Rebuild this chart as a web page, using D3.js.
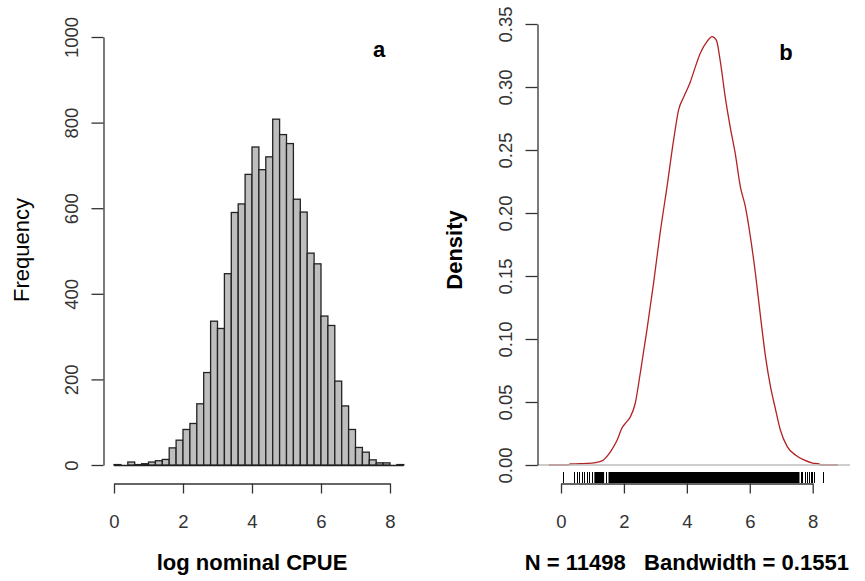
<!DOCTYPE html>
<html><head><meta charset="utf-8">
<script src="https://cdn.jsdelivr.net/npm/d3@7"></script>
<style>body{margin:0;background:#fff}svg{display:block}text{font-family:"Liberation Sans",Arial,sans-serif;white-space:pre}</style>
</head><body>
<script>
// ---- data ----
const binStarts = [0.0,0.2,0.4,0.6,0.8,1.0,1.2,1.4,1.6,1.8,2.0,2.2,2.4,2.6,2.8,3.0,3.2,3.4,3.6,3.8,4.0,4.2,4.4,4.6,4.8,5.0,5.2,5.4,5.6,5.8,6.0,6.2,6.4,6.6,6.8,7.0,7.2,7.4,7.6,7.8,8.0,8.2];
const binWidth = 0.2;
const counts = [1,0,7,1,3,7,10,13,40,58,83,97,143,216,336,319,447,590,610,679,743,690,720,808,772,751,621,591,495,470,348,326,196,138,83,41,30,12,5,5,0,1];
const xTicks = [0,2,4,6,8];
const freqTicks = [0,200,400,600,800,1000];
const densTicks = [0,0.05,0.10,0.15,0.20,0.25,0.30,0.35];
const densTickLabels = ["0.00","0.05","0.10","0.15","0.20","0.25","0.30","0.35"];
const densX = [-0.39,0.0,0.25,0.29,0.6,0.98,1.2,1.35,1.5,1.61,1.79,1.93,2.08,2.2,2.36,2.52,2.73,2.94,3.15,3.37,3.58,3.74,3.9,4.11,4.27,4.43,4.64,4.8,4.94,5.06,5.22,5.38,5.54,5.7,5.86,6.02,6.18,6.34,6.5,6.66,6.82,6.97,7.19,7.45,7.72,8.0,8.2,8.25,8.5,8.8];
const densY = [0,0,0,0.0008,0.001,0.0015,0.0025,0.004,0.008,0.012,0.020,0.029,0.034,0.038,0.049,0.073,0.107,0.144,0.184,0.221,0.258,0.282,0.292,0.304,0.316,0.327,0.336,0.340,0.337,0.321,0.292,0.268,0.247,0.221,0.205,0.181,0.152,0.118,0.086,0.062,0.044,0.028,0.0146,0.008,0.004,0.0015,0.0008,0,0,0];
const rugTicks = [0.07,0.42,0.50,0.58,0.66,0.74,0.82,0.90,0.98,1.43,7.62,7.66,7.74,7.82,7.88,7.95,7.99,8.03,8.33];
const rugBands = [[1.06,1.37],[1.51,7.58]];
const xLabelA = "log nominal CPUE";
const yLabelA = "Frequency";
const xLabelB = "N = 11498   Bandwidth = 0.1551";
const yLabelB = "Density";

// ---- drawing ----
const W = 865, H = 581;
const svg = d3.select("body").append("svg").attr("width", W).attr("height", H);
svg.append("rect").attr("width", W).attr("height", H).attr("fill", "#fff");
const axisCol = "#333", tickFont = 18.5, labFont = 22;

// Panel a
const xA = d3.scaleLinear().domain([0,8]).range([114,390]);
const yA = d3.scaleLinear().domain([0,1000]).range([465,37]);
const gA = svg.append("g");
gA.append("line").attr("x1", xA(0)).attr("x2", xA(8.4)).attr("y1", yA(0)+0.5).attr("y2", yA(0)+0.5)
  .attr("stroke", "#222").attr("stroke-width", 1.3);
gA.selectAll("rect.bar").data(binStarts.map((b,i)=>({b, c: counts[i]})).filter(d=>d.c>0))
  .join("rect").attr("class","bar")
  .attr("x", d=>xA(d.b)).attr("width", d=>xA(d.b+binWidth)-xA(d.b))
  .attr("y", d=>yA(d.c)).attr("height", d=>yA(0)-yA(d.c))
  .attr("fill", "#BEBEBE").attr("stroke", "#222").attr("stroke-width", 1.3);

function xAxis(g, sc, y){
  const a = g.append("g").attr("transform", `translate(0,${y})`)
    .call(d3.axisBottom(sc).tickValues(xTicks).tickSize(10).tickSizeOuter(0).tickFormat(d3.format("d")));
  a.select(".domain").attr("stroke", axisCol).attr("stroke-width", 1.3);
  a.selectAll(".tick line").attr("stroke", axisCol).attr("stroke-width", 1.3);
  a.selectAll(".tick text").attr("font-size", tickFont).attr("fill", axisCol).attr("dy", null).attr("y", 44);
}
function yAxis(g, sc, x, ticks, labels, bx){
  const a = g.append("g").attr("transform", `translate(${x},0)`)
    .call(d3.axisLeft(sc).tickValues(ticks).tickSize(12).tickSizeOuter(0).tickFormat((d,i)=>labels[i]));
  a.select(".domain").attr("stroke", axisCol).attr("stroke-width", 1.3);
  a.selectAll(".tick line").attr("stroke", axisCol).attr("stroke-width", 1.3);
  a.selectAll(".tick text").attr("font-size", tickFont).attr("fill", axisCol)
    .attr("x", null).attr("dy", null).attr("text-anchor", "middle")
    .attr("transform", `translate(${bx - x},0) rotate(-90)`);
}
xAxis(gA, xA, 483.5);
yAxis(gA, yA, 103.5, freqTicks, freqTicks.map(String), 78);
gA.append("text").attr("x", (xA(0)+xA(8))/2).attr("y", 570).attr("text-anchor","middle")
  .attr("font-size", labFont).attr("font-weight","bold").text(xLabelA);
gA.append("text").attr("transform","translate(29,250) rotate(-90)").attr("text-anchor","middle")
  .attr("font-size", labFont).text(yLabelA);
gA.append("text").attr("x", 379).attr("y", 57).attr("text-anchor","middle")
  .attr("font-size", 22).attr("font-weight","bold").text("a");

// Panel b
const xB = d3.scaleLinear().domain([0,8]).range([561,812.7]);
const yB = d3.scaleLinear().domain([0,0.35]).range([465,24]);
const gB = svg.append("g");
const line = d3.line().x(d=>xB(d[0])).y(d=>yB(d[1])).curve(d3.curveMonotoneX);
gB.append("path").datum(densX.map((x,i)=>[x, densY[i]])).attr("d", line)
  .attr("fill","none").attr("stroke","#B22222").attr("stroke-width",1.3);
gB.append("line").attr("x1", 537).attr("x2", 850).attr("y1", yB(0)).attr("y2", yB(0))
  .attr("stroke", "#BEBEBE").attr("stroke-width", 1.6);
gB.selectAll("line.rug").data(rugTicks).join("line").attr("class","rug")
  .attr("x1", d=>Math.round(xB(d))+0.5).attr("x2", d=>Math.round(xB(d))+0.5)
  .attr("y1", 472).attr("y2", 483).attr("stroke","#000").attr("stroke-width",1);
gB.selectAll("rect.rugband").data(rugBands).join("rect").attr("class","rugband")
  .attr("x", d=>xB(d[0])).attr("width", d=>xB(d[1])-xB(d[0]))
  .attr("y", 472).attr("height", 11).attr("fill","#000");
xAxis(gB, xB, 483.5);
yAxis(gB, yB, 537.5, densTicks, densTickLabels, 512);
gB.append("text").attr("x", (xB(0)+xB(8))/2).attr("y", 570).attr("text-anchor","middle")
  .attr("font-size", labFont).attr("font-weight","bold").text(xLabelB);
gB.append("text").attr("transform","translate(462,250) rotate(-90)").attr("text-anchor","middle")
  .attr("font-size", labFont).attr("font-weight","bold").text(yLabelB);
gB.append("text").attr("x", 786).attr("y", 60).attr("text-anchor","middle")
  .attr("font-size", 22).attr("font-weight","bold").text("b");
</script>
</body></html>
